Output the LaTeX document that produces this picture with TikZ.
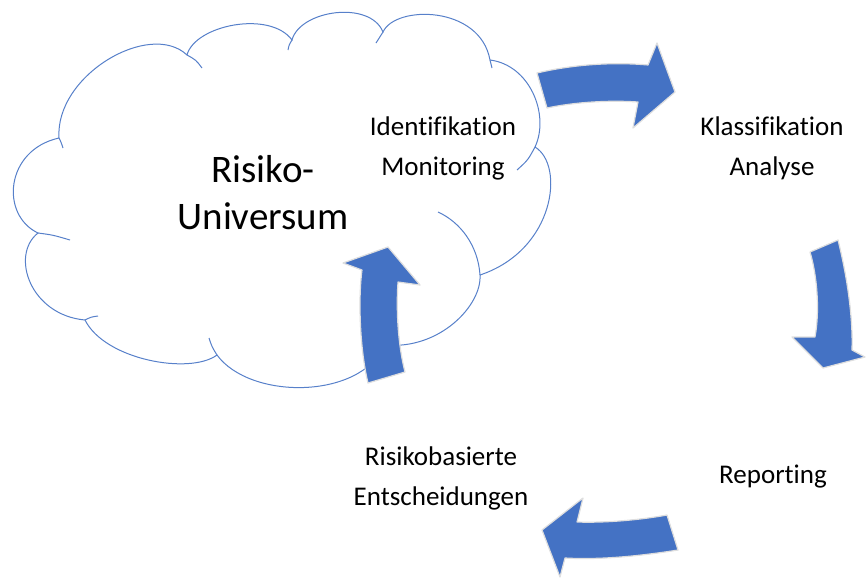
\documentclass[tikz,border=0pt]{standalone}
\usepackage{fontspec}
\setmainfont{Carlito}[Ligatures={NoCommon}]
\usepackage{tikz}
\usetikzlibrary{positioning}

\definecolor{officeblue}{HTML}{4472C4}

\begin{document}
\begin{tikzpicture}[
    x=1pt, y=-1pt,          % 1 unit = 1 pixel, y downwards
    cloud_line/.style={draw=officeblue!90, line width=1pt},
    block_arrow/.style={fill=officeblue, draw=black!13, line width=1.2pt, line join=round},
    step_text/.style={align=center, font=\fontsize{27}{40}\selectfont, inner sep=0pt},
    big_text/.style={align=center, font=\fontsize{39}{47}\selectfont, inner sep=0pt}
]
    \useasboundingbox (0,0) rectangle (867,579);

    % --- 1. Wolke ---
    \draw [cloud_line, fill=white]
        (59,138) .. controls (55,75) and (150,20) .. (187,55)
        .. controls (195,25) and (270,10) .. (292,40)
        .. controls (300,10) and (370,0) .. (383,32)
        .. controls (395,5) and (480,5) .. (490,60)
        .. controls (530,65) and (550,115) .. (535,147)
        .. controls (565,165) and (555,250) .. (480,275)
        .. controls (482,305) and (440,350) .. (385,345)
        .. controls (360,400) and (250,400) .. (217,355)
        .. controls (190,375) and (105,360) .. (85,320)
        .. controls (30,315) and (10,255) .. (38,233)
        .. controls (0,215) and (5,150) .. (59,138) -- cycle;

    % kleine Innenbögen der Wolke
    \draw [cloud_line] (59,138) .. controls (61,142) .. (63,148);
    \draw [cloud_line] (187,55) .. controls (196,60) .. (202,68);
    \draw [cloud_line] (292,40) .. controls (289,45) .. (288,50);
    \draw [cloud_line] (383,32) .. controls (379,37) .. (376,43);
    \draw [cloud_line] (490,60) .. controls (491,64) .. (492,68);
    \draw [cloud_line] (535,147) .. controls (528,160) .. (517,170);
    \draw [cloud_line] (480,275) .. controls (478,245) and (460,222) .. (438,212);
    \draw [cloud_line] (217,355) .. controls (212,347) .. (209,338);
    \draw [cloud_line] (85,320) .. controls (91,317) .. (98,316);
    \draw [cloud_line] (38,233) .. controls (53,235) .. (70,240);

    % --- 2. Texte ---
    \node [big_text] (universe) at (263,193) {Risiko-\\Universum};
    \node [step_text] (identify) at (443,148) {Identifikation\\Monitoring};
    \node [step_text] (classify) at (772,148) {Klassifikation\\Analyse};
    \node [step_text] (report) at (773,477) {Reporting};
    \node [step_text] (decide) at (441,478) {Risikobasierte\\Entscheidungen};

    % --- 3. Blockpfeile ---
    % oben: Identifikation -> Klassifikation
    \draw [block_arrow] (547,108) -- (537,73)
        .. controls (575,64) and (615,62) .. (648,65)
        -- (657,43) -- (675,92) -- (633,128) -- (638,102)
        .. controls (610,100) and (575,102) .. (547,108) -- cycle;

    % rechts: Klassifikation -> Reporting
    \draw [block_arrow] (810,252) -- (838,240)
        .. controls (848,280) and (853,320) .. (852,350)
        -- (865,357) -- (823,368) -- (792,337) -- (815,337)
        .. controls (820,310) and (817,275) .. (810,252) -- cycle;

    % unten: Reporting -> Entscheidungen
    \draw [block_arrow] (667,515) -- (678,550)
        .. controls (640,556) and (600,560) .. (565,558)
        -- (560,577) -- (542,530) -- (583,498) -- (577,522)
        .. controls (605,523) and (640,520) .. (667,515) -- cycle;

    % links: Entscheidungen -> Risiko-Universum
    \draw [block_arrow] (368,383) -- (405,372)
        .. controls (398,345) and (396,310) .. (398,282)
        -- (420,285) -- (388,247) -- (343,263) -- (362,270)
        .. controls (358,300) and (360,350) .. (368,383) -- cycle;

\end{tikzpicture}
\end{document}
